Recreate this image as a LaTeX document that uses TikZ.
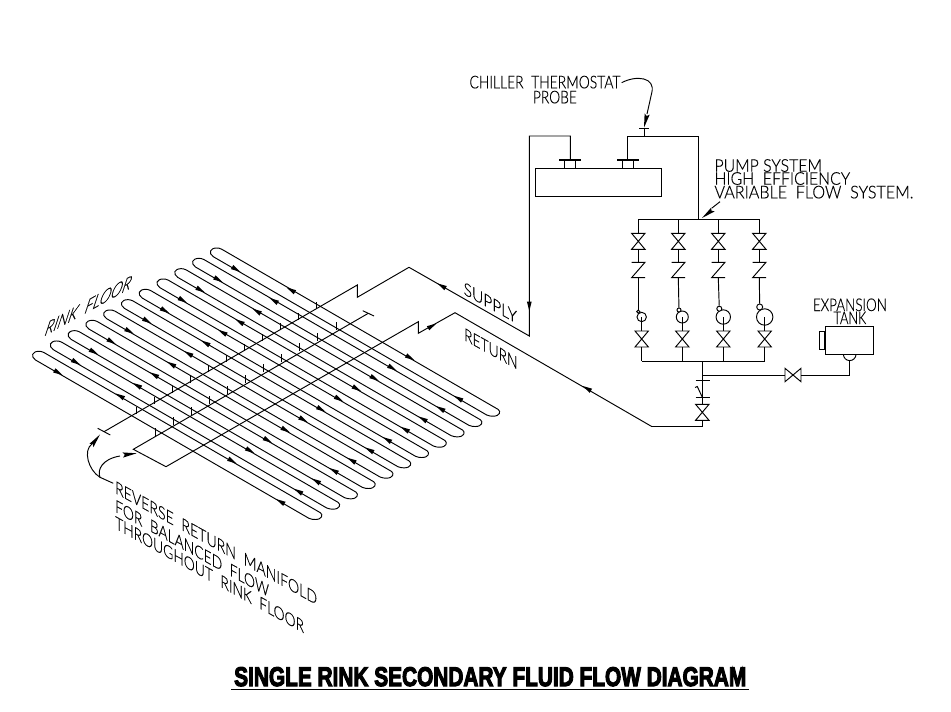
\documentclass[tikz,border=0pt]{standalone}
\usepackage{fontspec}
\usepackage{graphicx}
\usetikzlibrary{positioning}
\newfontfamily\cadfont[FakeBold=0.4]{Lato Light}
\newfontfamily\titlefont[FakeBold=4.5]{Liberation Sans Bold}
\newcommand{\wtext}[2]{\resizebox{#1pt}{\height}{#2}}
\tikzset{
	pipe/.style={line width=.95pt},
	cad/.style={font=\cadfont\fontsize{17.5}{17.5}\selectfont,inner sep=0pt,anchor=base west},
	tank/.style={draw,pipe,inner sep=0pt,fill=white},
	pmp/.style={draw,pipe,circle,inner sep=0pt,fill=white},
	gate/.pic={\draw[pipe] (-6.7,-8) -- (6.7,-8) -- (-6.7,8) -- (6.7,8) -- cycle;},
	check/.pic={\draw[pipe] (6.7,-7.7) -- (-6.7,-7.7) -- (6.7,-7.7) -- (-6.7,7.7) -- (6.7,7.7);},
	tip/.pic={\fill (-4.5,-2.4) -- (5,0) -- (-4.5,2.4) -- cycle;},
	bigtip/.pic={\fill (-14,-2.6) -- (0,0) -- (-14,2.6) -- (-12,0) -- cycle;}
}
\begin{document}
\begin{tikzpicture}[x=1pt,y=-1pt]
	\useasboundingbox (0,0) rectangle (951,712);
	% rink floor
	\foreach \i in {0,...,10} {
		\begin{scope}[shift={(-17.78*\i,10.33*\i)}]
			\draw[pipe] (221.7,249.2) -- (498.3,409.5) .. controls (501,411.5) and (500,416.2) .. (493,416.2)
				.. controls (491,416.2) and (489,416) .. (486.7,415) -- (213.3,256.7)
				.. controls (208,253) and (210,248) .. (216.7,248) .. controls (218,248) and (220,248.2) .. (221.7,249.2);
			\pic[rotate=-30] at (236,269.3) {tip};
			\pic[rotate=-30] at (410,357.7) {tip};
			\pic[rotate=150] at (458.3,398.3) {tip};
		\end{scope}
		\pic[rotate=150] at (291-17.1*\i,290+10.6*\i) {tip};
		% manifold ticks
		\draw[pipe] (136+18*\i,414-10.5*\i) -- ++(0,-7);
		\draw[pipe] (155+18.1*\i,436-10.6*\i) -- ++(0,-8);
	}
	% supply manifold
	\coordinate (sa) at (104,431.7);
	\coordinate (sb) at (357.3,285);
	\coordinate (sc) at (357.3,297.3);
	\coordinate (sd) at (409,267.3);
	\coordinate (se) at (529.3,336);
	\coordinate (sf) at (529.3,136);
	\coordinate (sg) at (570.3,136);
	\draw[pipe] (97.7,428.3) -- (110.3,435);
	\draw[pipe] (sa) -- (sb) -- (sc) -- (sd) -- (se) -- (sf) -- (sg) -- (570.3,159.7);
	\pic[rotate=150] at (441.7,285.9) {tip};
	\pic[rotate=-90] at (529.3,306) {tip};
	% return manifold
	\coordinate (ra) at (368.3,313.3);
	\coordinate (rb) at (133.3,449.3);
	\coordinate (rc) at (166,466.7);
	\coordinate (rd) at (418.3,321.7);
	\coordinate (re) at (418.3,333.3);
	\coordinate (rf) at (455,312.7);
	\coordinate (rg) at (651.7,426.5);
	\coordinate (rh) at (702.3,426.5);
	\draw[pipe] (362.7,310.7) -- (374,316);
	\draw[pipe] (ra) -- (rb) -- (rc) -- (rd) -- (re) -- (rf) -- (rg) -- (rh);
	\pic[rotate=30] at (432,326) {tip};
	\pic[rotate=150] at (587,388.5) {tip};
	% chiller
	\node[tank,minimum width=126,minimum height=28] (chiller) at (598.3,182.3) {};
	\draw[line width=1.8pt] (559.3,159.7) -- (580.7,159.7);
	\draw[line width=1.8pt] (617,159.7) -- (638.7,159.7);
	\foreach \x in {564.7,575.7,622.7,633.7} {
		\draw[pipe] (\x,159.7) -- (\x,168.3);
	}
	\coordinate (cha) at (627.3,159.7);
	\coordinate (chb) at (627.3,136);
	\coordinate (chc) at (698.3,136);
	\coordinate (chd) at (698.3,219);
	\coordinate (prb) at (644,128.3);
	\draw[pipe] (cha) -- (chb) -- (chc) -- (chd);
	\draw[pipe] (644,136) -- (prb);
	\draw[pipe] (639,128.3) -- (649,128.3);
	\draw[pipe] (638.3,219) -- (759.3,219);
	% pump branches
	\foreach \i/\u/\l/\r/\sx/\sy/\sr in {1/638.3/641.7/4.7/638.3/311.7/1.6,2/678.3/682.3/6/679/310/2,
		3/718.3/723.3/7.2/719.3/308.7/2.5,4/759.3/764.7/8.2/759.7/307/3} {
		\node[pmp,minimum size=2*\r] (pump\i) at (\l,317) {};
		\node[pmp,minimum size=2*\sr] (sm\i) at (\sx,\sy) {};
		\draw[pipe] (\u,219) -- (\u,233.3);
		\pic at (\u,241.3) {gate};
		\draw[pipe] (\u,249.3) -- (\u,262.3);
		\pic at (\u,270) {check};
		\draw[pipe] (\u,277.7) -- (sm\i);
		\draw[pipe] (pump\i.center) -- (\l,331);
		\pic at (\l,339) {gate};
		\draw[pipe] (\l,347) -- (\l,361.3);
	}
	\draw[pipe] (641.7,361.3) -- (764.7,361.3);
	% main down to return
	\coordinate (mt) at (702.3,361.3);
	\coordinate (br) at (702.3,375);
	\draw[pipe] (mt) -- (702.3,404.3);
	\draw[pipe] (695.6,380) -- (710,380);
	\draw[pipe] (695.6,397.3) -- (710,397.3);
	\draw[pipe] (702.3,397.3) -- (697.3,386.5) -- (695,387.5);
	\pic at (702.3,412.3) {gate};
	\draw[pipe] (702.3,420.3) -- (rh);
	% expansion tank
	\node[tank,minimum width=48.4,minimum height=28] (exptank) at (849.5,340.3) {};
	\node[tank,minimum width=5,minimum height=18.6,left=0pt of exptank] (neck) {};
	\coordinate (tk) at (849.7,360.6);
	\draw[pipe] (843.4,354.3) arc (180:0:6.3);
	\draw[pipe] (br) -- (785,375);
	\pic[rotate=90] at (793,375) {gate};
	\draw[pipe] (801,375) -- (849.7,375) -- (tk);
	% leaders
	\coordinate (ldr) at (100,477.3);
	\draw[pipe] (113.3,483.3) -- (ldr) .. controls (88,470) and (83,450) .. (92,444);
	\pic[rotate=52] at (100,434.5) {bigtip};
	\draw[pipe] (ldr) .. controls (97,470) and (102,459) .. (120,456);
	\pic[rotate=7] at (136.7,453.3) {bigtip};
	\draw[pipe] (621.7,82.7) .. controls (636,75) and (656,77) .. (651.7,93) -- (647,114);
	\pic[rotate=-103] at (644,127.7) {bigtip};
	\draw[pipe] (720,201.7) -- (712,208);
	\pic[rotate=-142] at (702,218) {bigtip};
	% labels
	\node[cad] (chl) at (469.3,88.3) {\wtext{151}{CHILLER\ \ THERMOSTAT}};
	\node[cad] (prl) at (532.7,103.3) {\wtext{44}{PROBE}};
	\node[cad] (psl) at (714.3,171.7) {\wtext{107.4}{PUMP SYSTEM}};
	\node[cad] (hel) at (714.3,184.7) {\wtext{135.7}{HIGH\ \ EFFICIENCY}};
	\node[cad] (vfl) at (714.3,198.3) {\wtext{199}{VARIABLE\ \ FLOW\ \ SYSTEM.}};
	\node[cad] (epl) at (812.7,311) {\wtext{74}{EXPANSION}};
	\node[cad] (tkl) at (833.3,324) {\wtext{32.7}{TANK}};
	\node[cad,cm={.874,-.485,0,1,(463.5,294)}] (sup) at (0,0) {\wtext{61}{SUPPLY}};
	\node[cad,cm={.874,-.485,0,1,(464,340)}] (ret) at (0,0) {\wtext{61}{RETURN}};
	\node[cad,cm={.874,.485,.4,1.2,(43.3,336.7)}] (rnk) at (0,0) {\wtext{98}{RINK\ \ FLOOR}};
	\node[cad,cm={.874,-.485,0,1,(115,493)}] (ln1) at (0,0) {\wtext{231}{REVERSE\ \ RETURN\ \ MANIFOLD}};
	\node[cad,cm={.874,-.485,0,1,(115,511.7)}] (ln2) at (0,0) {\wtext{176}{FOR\ \ BALANCED\ \ FLOW}};
	\node[cad,cm={.874,-.485,0,1,(115,528.3)}] (ln3) at (0,0) {\wtext{216}{THROUGHOUT\ \ RINK\ \ FLOOR}};
	\node[inner sep=0pt,anchor=base west,font=\titlefont\fontsize{27}{27}\selectfont] (ttl) at (234,686)
		{\wtext{512}{SINGLE RINK SECONDARY FLUID FLOW DIAGRAM}};
	\draw[line width=1.6pt] (231,689.5) -- (749,689.5);
\end{tikzpicture}
\end{document}
